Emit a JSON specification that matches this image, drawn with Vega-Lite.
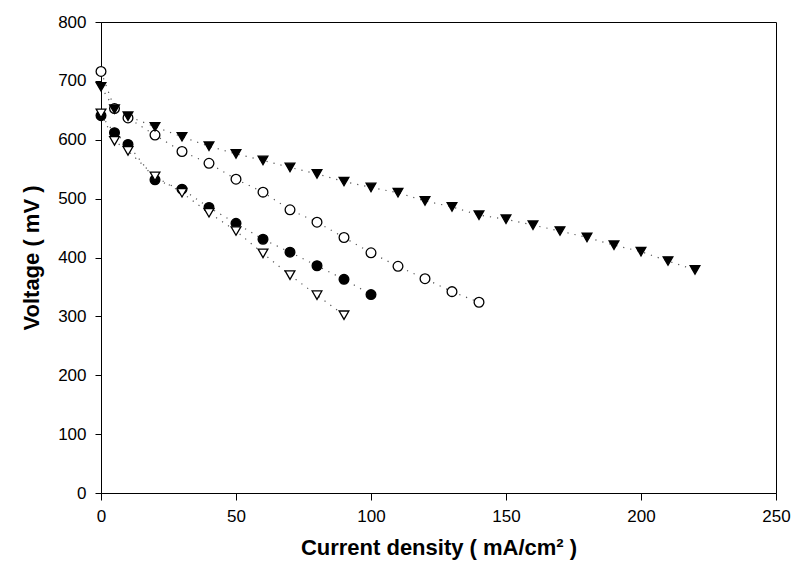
{
  "$schema": "https://vega.github.io/schema/vega-lite/v6.json",
  "width": 675,
  "height": 471,
  "autosize": {"type": "none"},
  "padding": {"left": 101, "top": 22, "right": 18, "bottom": 78},
  "background": "white",
  "config": {
    "view": {"stroke": "black", "strokeWidth": 1},
    "font": "Liberation Sans",
    "axis": {"grid": false, "domainColor": "black", "tickColor": "black", "labelColor": "black", "titleColor": "black", "labelFont": "Liberation Sans", "titleFont": "Liberation Sans"}
  },
  "data": {
    "values": [
      {"s": "B", "x": 0, "y": 716}, {"s": "B", "x": 5, "y": 653}, {"s": "B", "x": 10, "y": 637}, {"s": "B", "x": 20, "y": 608}, {"s": "B", "x": 30, "y": 580}, {"s": "B", "x": 40, "y": 560}, {"s": "B", "x": 50, "y": 533}, {"s": "B", "x": 60, "y": 511}, {"s": "B", "x": 70, "y": 481}, {"s": "B", "x": 80, "y": 460}, {"s": "B", "x": 90, "y": 434}, {"s": "B", "x": 100, "y": 408}, {"s": "B", "x": 110, "y": 385}, {"s": "B", "x": 120, "y": 364}, {"s": "B", "x": 130, "y": 342}, {"s": "B", "x": 140, "y": 324},
      {"s": "C", "x": 0, "y": 641}, {"s": "C", "x": 5, "y": 612}, {"s": "C", "x": 10, "y": 592}, {"s": "C", "x": 20, "y": 532}, {"s": "C", "x": 30, "y": 516}, {"s": "C", "x": 40, "y": 485}, {"s": "C", "x": 50, "y": 458}, {"s": "C", "x": 60, "y": 431}, {"s": "C", "x": 70, "y": 409}, {"s": "C", "x": 80, "y": 386}, {"s": "C", "x": 90, "y": 363}, {"s": "C", "x": 100, "y": 337},
      {"s": "D", "x": 0, "y": 645}, {"s": "D", "x": 5, "y": 598}, {"s": "D", "x": 10, "y": 581}, {"s": "D", "x": 20, "y": 538}, {"s": "D", "x": 30, "y": 510}, {"s": "D", "x": 40, "y": 476}, {"s": "D", "x": 50, "y": 445}, {"s": "D", "x": 60, "y": 407}, {"s": "D", "x": 70, "y": 370}, {"s": "D", "x": 80, "y": 336}, {"s": "D", "x": 90, "y": 302},
      {"s": "A", "x": 0, "y": 690}, {"s": "A", "x": 5, "y": 652}, {"s": "A", "x": 10, "y": 640}, {"s": "A", "x": 20, "y": 622}, {"s": "A", "x": 30, "y": 605}, {"s": "A", "x": 40, "y": 589}, {"s": "A", "x": 50, "y": 576}, {"s": "A", "x": 60, "y": 565}, {"s": "A", "x": 70, "y": 553}, {"s": "A", "x": 80, "y": 542}, {"s": "A", "x": 90, "y": 529}, {"s": "A", "x": 100, "y": 519}, {"s": "A", "x": 110, "y": 510}, {"s": "A", "x": 120, "y": 496}, {"s": "A", "x": 130, "y": 486}, {"s": "A", "x": 140, "y": 472}, {"s": "A", "x": 150, "y": 465}, {"s": "A", "x": 160, "y": 455}, {"s": "A", "x": 170, "y": 445}, {"s": "A", "x": 180, "y": 434}, {"s": "A", "x": 190, "y": 421}, {"s": "A", "x": 200, "y": 410}, {"s": "A", "x": 210, "y": 394}, {"s": "A", "x": 220, "y": 379}
    ]
  },
  "encoding": {
    "x": {
      "field": "x", "type": "quantitative",
      "scale": {"domain": [0, 250], "nice": false, "zero": false},
      "axis": {"values": [0, 50, 100, 150, 200, 250], "tickSize": 7, "labelPadding": 8, "labelFontSize": 17, "labelFlush": false, "title": "Current density ( mA/cm² )", "titleFontSize": 22, "titleFontWeight": "bold", "titlePadding": 13}
    },
    "y": {
      "field": "y", "type": "quantitative",
      "scale": {"domain": [0, 800], "nice": false},
      "axis": {"values": [0, 100, 200, 300, 400, 500, 600, 700, 800], "tickSize": 6, "labelPadding": 9, "labelFontSize": 17, "labelFlush": false, "title": "Voltage ( mV )", "titleFontSize": 22, "titleFontWeight": "bold", "titlePadding": 14}
    }
  },
  "layer": [
    {
      "mark": {"type": "line", "stroke": "#555", "strokeWidth": 1.2, "strokeDash": [1.2, 6]},
      "encoding": {"detail": {"field": "s"}}
    },
    {
      "mark": {"type": "point", "filled": true, "stroke": "black", "strokeWidth": 1.3, "opacity": 1},
      "encoding": {
        "shape": {"field": "s", "type": "nominal", "scale": {"domain": ["A", "B", "C", "D"], "range": ["triangle-down", "circle", "circle", "triangle-down"]}, "legend": null},
        "fill": {"field": "s", "type": "nominal", "scale": {"domain": ["A", "B", "C", "D"], "range": ["black", "white", "black", "white"]}, "legend": null},
        "size": {"value": 95}
      }
    }
  ]
}
